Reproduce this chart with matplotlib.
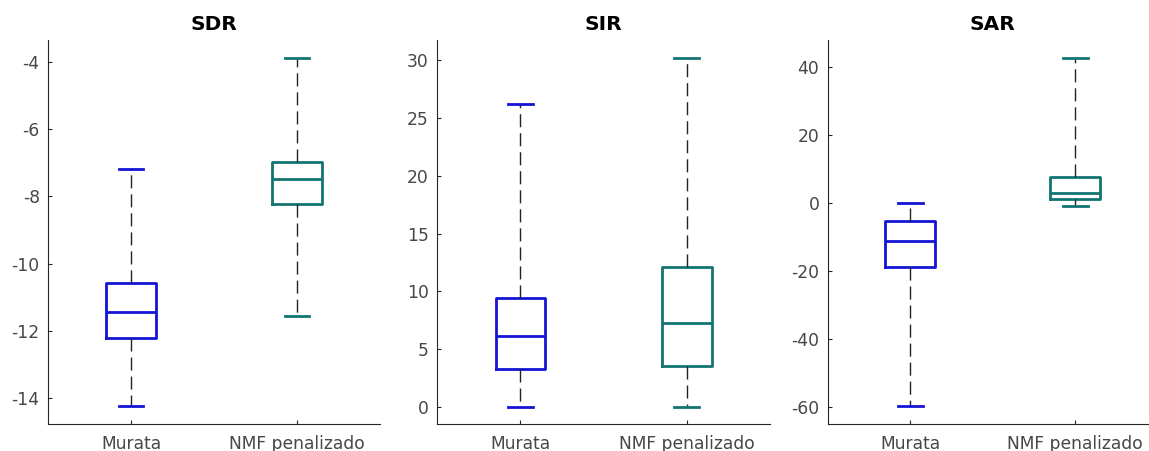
import matplotlib
matplotlib.use("Agg")
import matplotlib.pyplot as plt

categories = ["Murata", "NMF penalizado"]
titles = ["SDR", "SIR", "SAR"]

# five-number summaries per metric: [lower whisker, Q1, median, Q3, upper whisker]
sdr_murata = [-14.23, -12.19, -11.44, -10.58, -7.18]
sdr_nmf = [-11.55, -8.21, -7.48, -6.97, -3.89]
sir_murata = [0.0, 3.29, 6.10, 9.44, 26.18]
sir_nmf = [0.0, 3.50, 7.22, 12.07, 30.16]
sar_murata = [-59.9, -18.8, -11.2, -5.2, 0.0]
sar_nmf = [-0.8, 1.05, 3.0, 7.7, 42.56]

yticks_sdr = [-14, -12, -10, -8, -6, -4]
yticks_sir = [0, 5, 10, 15, 20, 25, 30]
yticks_sar = [-60, -40, -20, 0, 20, 40]

ylims = [(-14.76, -3.35), (-1.5, 31.76), (-65.1, 47.95)]

colors = ["#1414d6", "#127571"]
whisk_color = "#222222"
axis_color = "#262626"
text_color = "#474747"

data = [(sdr_murata, sdr_nmf), (sir_murata, sir_nmf), (sar_murata, sar_nmf)]
yticks = [yticks_sdr, yticks_sir, yticks_sar]

fig = plt.figure(figsize=(11.49, 4.51), dpi=100)
W, H = 1149, 451
panels = [(48, 332), (437.3, 332.7), (827.7, 330)]
bottom_px, top_px = 424, 40

for i, (left, width) in enumerate(panels):
    ax = fig.add_axes([left / W, (H - bottom_px) / H, width / W, (bottom_px - top_px) / H])
    for j, s in enumerate(data[i]):
        st = dict(whislo=s[0], q1=s[1], med=s[2], q3=s[3], whishi=s[4], fliers=[])
        c = colors[j]
        ax.bxp([st], positions=[j + 1], widths=0.3, showfliers=False,
               boxprops=dict(color=c, linewidth=2.0),
               medianprops=dict(color=c, linewidth=2.0),
               capprops=dict(color=c, linewidth=2.0),
               whiskerprops=dict(color=whisk_color, linewidth=1.0, linestyle=(0, (9.4, 4.3))),
               capwidths=0.15)
    ax.set_xlim(0.5, 2.5)
    ax.set_ylim(*ylims[i])
    ax.set_xticks([1, 2])
    ax.set_xticklabels(categories)
    ax.set_yticks(yticks[i])
    ax.set_yticklabels([str(v) for v in yticks[i]])
    for sp in ["top", "right"]:
        ax.spines[sp].set_visible(False)
    for sp in ["left", "bottom"]:
        ax.spines[sp].set_color(axis_color)
        ax.spines[sp].set_linewidth(0.8)
    ax.tick_params(direction="in", length=3, width=0.8, color=axis_color,
                   labelsize=12.3, labelcolor=text_color, pad=6)
    ax.tick_params(axis="x", pad=8)
    ax.set_title(titles[i], fontsize=14.5, fontweight="bold", color="black", pad=7)

fig.savefig("out.png", dpi=100)
